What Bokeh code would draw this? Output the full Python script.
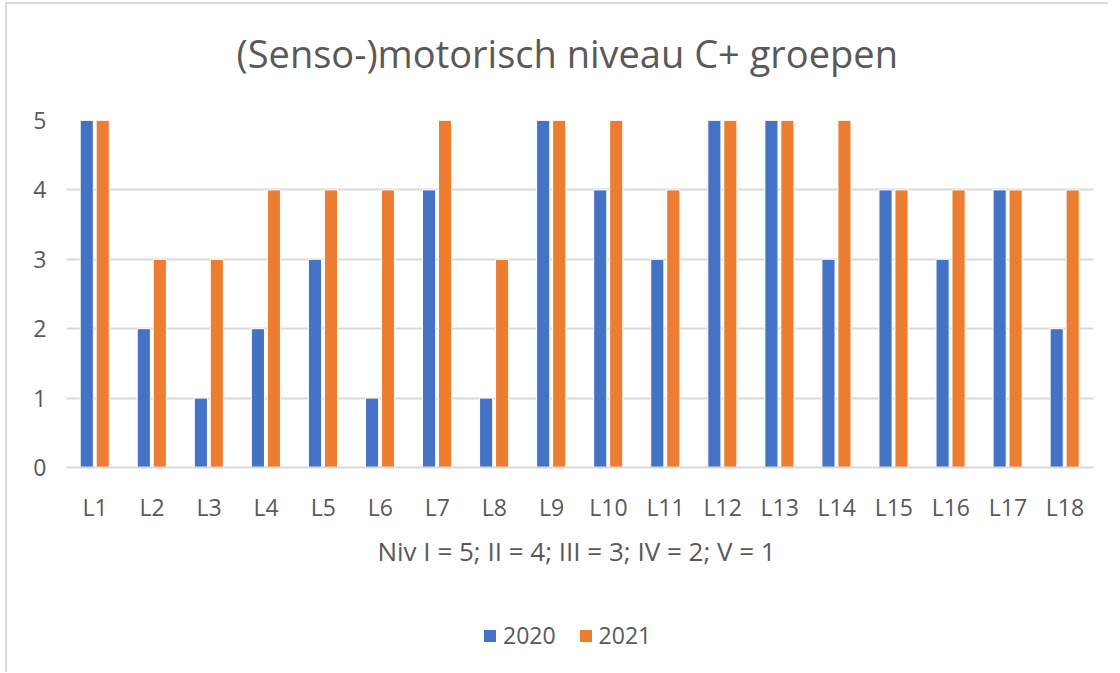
from bokeh.plotting import figure
from bokeh.models import Range1d, FactorRange, Legend, LegendItem, FixedTicker, Title
from bokeh.models import ColumnDataSource
from bokeh.layouts import column
from bokeh.transform import dodge
from bokeh.embed import file_html
from bokeh.resources import INLINE

categories = ["L1", "L2", "L3", "L4", "L5", "L6", "L7", "L8", "L9", "L10",
              "L11", "L12", "L13", "L14", "L15", "L16", "L17", "L18"]
y2020 = [5, 2, 1, 2, 3, 1, 4, 1, 5, 4, 3, 5, 5, 3, 4, 3, 4, 2]
y2021 = [5, 3, 3, 4, 4, 4, 5, 3, 5, 5, 4, 5, 5, 5, 4, 4, 4, 4]
y_ticks = [0, 1, 2, 3, 4, 5]
series = ["2020", "2021"]

FONT = "Open Sans"
TXT = "#595959"
GRID = "#D9D9D9"
BLUE = "#4472C4"
ORANGE = "#ED7D31"

src = ColumnDataSource(dict(cat=categories, a=y2020, b=y2021))

p = figure(x_range=FactorRange(*categories, range_padding=0), y_range=Range1d(0, 5),
           frame_width=1027, frame_height=347, output_backend="svg", toolbar_location=None,
           min_border_left=59, min_border_right=15, min_border_top=116,
           min_border_bottom=0)

p.title.text = "(Senso-)motorisch niveau C+ groepen"
p.title.align = "left"
p.title.offset = 170
p.title.text_font = FONT
p.title.text_font_size = "38px"
p.title.text_font_style = "normal"
p.title.text_color = TXT
p.title.standoff = 8
p.add_layout(Title(text=" ", text_font_size="1px", standoff=35), "above")

r1 = p.vbar(x=dodge("cat", -0.145, range=p.x_range), top="a", width=0.23, bottom=0,
            source=src, fill_color=BLUE, line_color="white", line_width=1)
r2 = p.vbar(x=dodge("cat", 0.135, range=p.x_range), top="b", width=0.23, bottom=0,
            source=src, fill_color=ORANGE, line_color="white", line_width=1)

p.outline_line_color = None
p.background_fill_color = "white"
p.border_fill_color = "white"
p.xgrid.grid_line_color = None
p.ygrid.grid_line_color = GRID
p.ygrid.grid_line_width = 2
p.yaxis.ticker = FixedTicker(ticks=y_ticks)

for ax in (p.xaxis[0], p.yaxis[0]):
    ax.major_tick_line_color = None
    ax.minor_tick_line_color = None
    ax.major_label_text_font = FONT
    ax.major_label_text_font_size = "23px"
    ax.major_label_text_color = TXT
p.yaxis.axis_line_color = None
p.yaxis.major_label_standoff = 14
p.xaxis.axis_line_color = GRID
p.xaxis.axis_line_width = 2
p.xaxis.major_label_standoff = 17
p.xaxis.axis_label = "Niv  I = 5; II = 4; III = 3; IV = 2; V = 1"
p.xaxis.axis_label_text_font = FONT
p.xaxis.axis_label_text_font_size = "26px"
p.xaxis.axis_label_text_font_style = "normal"
p.xaxis.axis_label_text_color = TXT
p.xaxis.axis_label_standoff = 7

# legend strip below the chart
lf = figure(width=1101, height=101, output_backend="svg", toolbar_location=None,
            x_axis_location=None, y_axis_location=None, min_border=0,
            x_range=Range1d(0, 1), y_range=Range1d(0, 1))
lf.outline_line_color = None
lf.xgrid.grid_line_color = None
lf.ygrid.grid_line_color = None
e1 = lf.vbar(x=[-5], top=[-5], bottom=[-6], width=0.1, fill_color=BLUE, line_color=None)
e2 = lf.vbar(x=[-5], top=[-5], bottom=[-6], width=0.1, fill_color=ORANGE, line_color=None)
legend = Legend(items=[LegendItem(label=series[0], renderers=[e1]),
                       LegendItem(label=series[1], renderers=[e2])],
                orientation="horizontal", location=(416, 21),
                label_text_font=FONT, label_text_font_size="23px", label_text_color=TXT,
                glyph_width=15, glyph_height=15, label_standoff=6, spacing=22,
                border_line_color=None, background_fill_alpha=0, margin=0, padding=4)
lf.add_layout(legend, "center")

layout = column(p, lf, spacing=0)
layout.styles = {"border-left": "2px solid #D9D9D9", "border-top": "2px solid #D9D9D9",
                 "margin-left": "5px", "margin-top": "2px"}

open("out.html", "w").write(file_html(layout, INLINE))
